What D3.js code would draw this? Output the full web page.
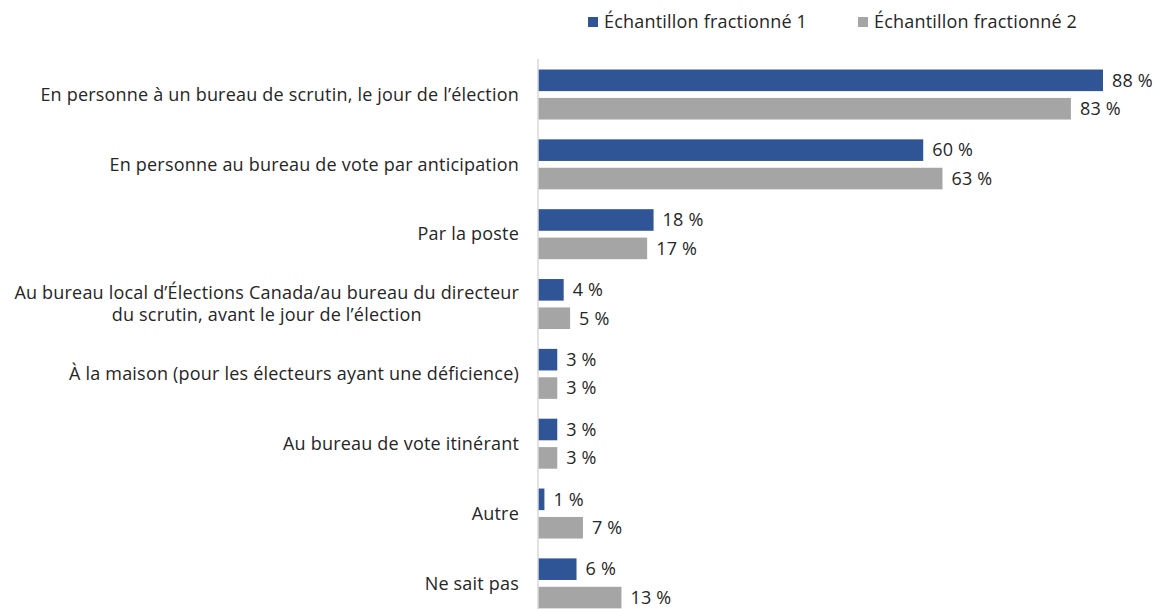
<!DOCTYPE html>
<html lang="fr">
<head>
<meta charset="UTF-8">
<title>Méthodes de vote</title>
<script src="https://cdn.jsdelivr.net/npm/d3@7"></script>
<style>
  body { margin: 0; background: #fff; }
  svg text { font-family: "Open Sans", "Liberation Sans", sans-serif; fill: #262626; letter-spacing: 0.2px; }
</style>
</head>
<body>
<div id="chart"></div>
<script>
// data
var categories = [
  ["En personne à un bureau de scrutin, le jour de l’élection"],
  ["En personne au bureau de vote par anticipation"],
  ["Par la poste"],
  ["Au bureau local d’Élections Canada/au bureau du directeur", "du scrutin, avant le jour de l’élection"],
  ["À la maison (pour les électeurs ayant une déficience)"],
  ["Au bureau de vote itinérant"],
  ["Autre"],
  ["Ne sait pas"]
];
var seriesNames = ["Échantillon fractionné 1", "Échantillon fractionné 2"];
var sample1 = [88, 60, 18, 4, 3, 3, 1, 6];
var sample2 = [83, 63, 17, 5, 3, 3, 7, 13];
var colors = ["#2f5597", "#a5a5a5"];

var width = 1157, height = 609;
var svg = d3.select("#chart").append("svg")
    .attr("width", width)
    .attr("height", height);

var x = d3.scaleLinear().domain([0, 88]).range([538, 1103]);
var y = d3.scaleBand().domain(d3.range(categories.length)).range([59.6, 618.3]);
var inner = d3.scaleBand().domain([0, 1]).range([0, 50]).paddingInner(0.24);
var off = (y.bandwidth() - 50) / 2;

var rows = categories.map(function(c, i){
    return {label: c, vals: [sample1[i], sample2[i]], i: i};
});

// bars
var groups = svg.selectAll("g.grp")
    .data(rows)
    .enter()
    .append("g")
    .attr("class", "grp")
    .attr("transform", function(d){ return "translate(0," + (y(d.i) + off) + ")"; });

groups.selectAll("rect")
    .data(function(d){ return d.vals; })
    .enter()
    .append("rect")
    .attr("x", x(0))
    .attr("y", function(d, j){ return inner(j); })
    .attr("width", function(d){ return x(d) - x(0); })
    .attr("height", inner.bandwidth())
    .style("fill", function(d, j){ return colors[j]; });

groups.selectAll("text.val")
    .data(function(d){ return d.vals; })
    .enter()
    .append("text")
    .attr("class", "val")
    .attr("x", function(d){ return x(d) + 9; })
    .attr("y", function(d, j){ return inner(j) + inner.bandwidth() / 2; })
    .attr("dy", "0.35em")
    .style("font-size", "18px")
    .text(function(d){ return d + "\u00a0%"; });

// axis line
svg.append("line")
    .attr("x1", x(0)).attr("x2", x(0))
    .attr("y1", 59).attr("y2", height)
    .style("stroke", "#d9d9d9")
    .style("stroke-width", 1.5);

// category labels
var labelRight = 519;
groups.each(function(d){
    var g = d3.select(this);
    var n = d.label.length;
    var t = g.append("text")
        .style("font-size", "18px")
        .attr("text-anchor", "middle");
    var spans = d.label.map(function(line, k){
        return t.append("tspan")
            .attr("y", 25 + (k - (n - 1) / 2) * 22)
            .attr("dy", "0.35em")
            .text(line);
    });
    var maxW = d3.max(spans, function(s){ return s.node().getComputedTextLength(); });
    spans.forEach(function(s){ s.attr("x", labelRight - maxW / 2); });
});

// legend
var legendX = [588, 858];
var legend = svg.selectAll("g.leg")
    .data(seriesNames)
    .enter()
    .append("g")
    .attr("class", "leg")
    .attr("transform", function(d, i){ return "translate(" + legendX[i] + ",17)"; });
legend.append("rect")
    .attr("width", 10).attr("height", 10)
    .style("fill", function(d, i){ return colors[i]; });
legend.append("text")
    .attr("x", 16).attr("y", 5)
    .attr("dy", "0.35em")
    .style("font-size", "18px")
    .text(function(d){ return d; });
</script>
</body>
</html>
